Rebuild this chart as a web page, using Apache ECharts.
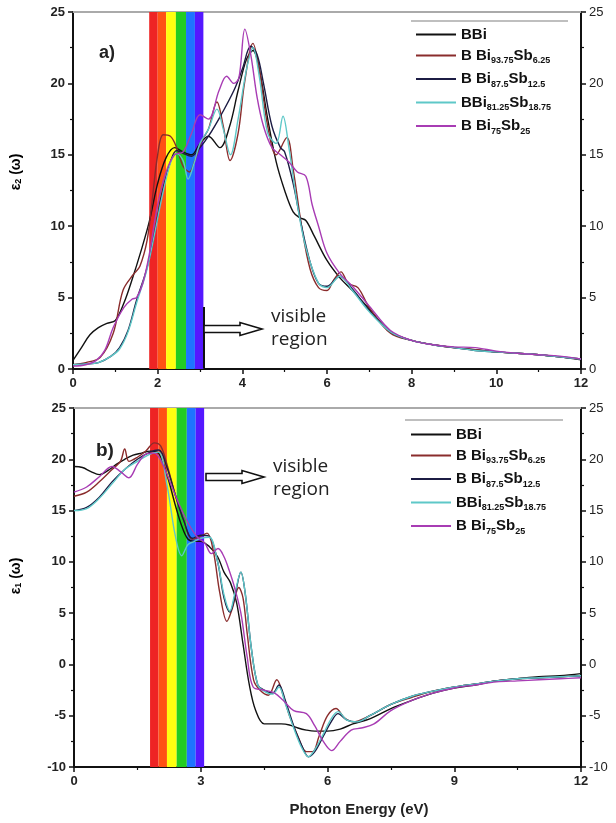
<!DOCTYPE html>
<html>
<head>
<meta charset="utf-8">
<script src="https://cdn.jsdelivr.net/npm/echarts@6/dist/echarts.min.js"></script>
<style>html,body{margin:0;padding:0;background:#fff}#c{width:616px;height:823px}</style>
</head>
<body>
<div id="c"></div>
<script>
// ---------- DATA ----------
const seriesNames = ['BBi', 'BBi93.75Sb6.25', 'BBi87.5Sb12.5', 'BBi81.25Sb18.75', 'BBi75Sb25'];
const legendLabels = [
  '{n|BBi}',
  '{n|B Bi}{s|93.75}{n|Sb}{s|6.25}',
  '{n|B Bi}{s|87.5}{n|Sb}{s|12.5}',
  '{n|BBi}{s|81.25}{n|Sb}{s|18.75}',
  '{n|B Bi}{s|75}{n|Sb}{s|25}'
];
// visible band edges (eV)
const bandEdges = [1.8, 2.0, 2.2, 2.43, 2.67, 2.88, 3.08];
const bandColors = ['#ee2424', '#ff5214', '#ffff10', '#22cc22', '#1e74ff', '#5418ff'];

// epsilon_2 (imaginary part) [energy, value]
const eps2_BBi = [[0,0.6],[0.2,1.5],[0.4,2.4],[0.6,2.9],[0.8,3.2],[1.0,3.4],[1.2,4.6],[1.4,6.3],[1.6,8.2],[1.8,10.3],[2.0,13.0],[2.2,14.8],[2.4,15.5],[2.6,15.2],[2.8,15.0],[3.0,15.8],[3.2,16.3],[3.47,15.5],[3.7,17.0],[3.9,19.5],[4.1,21.7],[4.25,22.3],[4.4,21.0],[4.6,17.5],[4.8,14.5],[5.0,12.5],[5.2,11.0],[5.35,10.6],[5.5,10.4],[5.7,9.3],[6.0,7.6],[6.3,6.4],[6.6,5.5],[7.0,4.2],[7.5,2.6],[8.0,2.0],[8.5,1.7],[9.0,1.5],[9.5,1.35],[10.0,1.2],[10.5,1.1],[11.0,1.0],[11.5,0.85],[12,0.65]];
const eps2_Sb625 = [[0,0.3],[0.3,0.45],[0.64,0.8],[0.95,2.5],[1.18,5.5],[1.42,6.6],[1.58,7.2],[1.75,9.0],[1.87,11.8],[2.0,15.0],[2.13,16.4],[2.3,16.3],[2.45,15.5],[2.6,14.2],[2.75,13.8],[2.9,14.8],[3.05,16.0],[3.2,16.8],[3.4,18.7],[3.55,17.0],[3.71,14.6],[3.9,16.5],[4.05,20.0],[4.25,22.8],[4.4,21.0],[4.6,17.0],[4.8,15.0],[5.05,16.2],[5.2,14.0],[5.4,10.0],[5.6,7.0],[5.8,5.7],[6.0,5.5],[6.15,6.2],[6.33,6.8],[6.5,6.0],[6.73,5.7],[7.0,4.3],[7.5,2.5],[8.0,2.0],[8.5,1.7],[9.0,1.5],[9.5,1.35],[10,1.2],[10.5,1.1],[11,1.0],[11.5,0.85],[12,0.7]];
const eps2_Sb125 = [[0,0.3],[0.3,0.35],[0.6,0.45],[0.9,0.9],[1.1,1.5],[1.3,2.7],[1.5,4.8],[1.75,7.1],[1.95,9.9],[2.1,12.3],[2.3,14.5],[2.45,15.3],[2.6,15.1],[2.8,14.9],[3.0,15.5],[3.2,16.3],[3.5,17.8],[3.8,19.5],[4.0,21.0],[4.2,22.6],[4.35,22.0],[4.5,20.0],[4.7,17.0],[4.9,15.5],[5.0,15.2],[5.2,13.0],[5.4,10.0],[5.6,7.5],[5.8,6.0],[6.0,5.8],[6.3,6.5],[6.6,5.6],[7.0,4.1],[7.5,2.6],[8.0,2.0],[8.5,1.7],[9.0,1.5],[9.5,1.3],[10,1.2],[10.5,1.1],[11,1.0],[11.5,0.85],[12,0.7]];
const eps2_Sb1875 = [[0,0.3],[0.3,0.35],[0.6,0.45],[0.9,0.9],[1.1,1.4],[1.3,2.6],[1.5,4.6],[1.75,7.0],[1.95,9.8],[2.1,12.0],[2.3,14.4],[2.45,15.1],[2.6,14.6],[2.72,13.3],[2.85,14.3],[3.0,15.8],[3.2,16.8],[3.4,18.2],[3.55,16.8],[3.72,15.0],[3.9,17.5],[4.1,21.0],[4.25,22.5],[4.4,20.5],[4.6,16.5],[4.8,15.8],[4.96,17.7],[5.1,15.5],[5.3,11.5],[5.5,8.5],[5.8,6.0],[6.0,5.7],[6.3,6.5],[6.6,5.5],[7.0,4.0],[7.5,2.6],[8.0,2.0],[8.5,1.7],[9.0,1.5],[9.5,1.3],[10,1.2],[10.5,1.1],[11,1.0],[11.5,0.85],[12,0.7]];
const eps2_Sb25 = [[0,0.2],[0.3,0.3],[0.55,0.6],[0.75,1.3],[0.95,2.9],[1.2,4.3],[1.4,4.9],[1.5,5.0],[1.65,6.0],[1.8,8.0],[2.0,11.5],[2.2,13.8],[2.4,15.0],[2.6,15.2],[2.8,16.5],[3.0,17.8],[3.2,17.5],[3.45,19.5],[3.63,20.5],[3.8,20.0],[3.92,20.4],[4.06,23.8],[4.2,22.0],[4.35,19.0],[4.5,17.0],[4.7,15.5],[4.9,15.0],[5.1,14.5],[5.3,13.8],[5.5,13.5],[5.65,11.5],[5.8,10.0],[6.0,8.1],[6.3,6.7],[6.6,5.8],[7.0,4.4],[7.5,2.7],[8.0,2.0],[8.5,1.7],[9.0,1.55],[9.5,1.5],[10,1.25],[10.5,1.1],[11,1.0],[11.5,0.9],[12,0.7]];

// epsilon_1 (real part) [energy, value]
const eps1_BBi = [[0,19.3],[0.2,19.2],[0.4,18.8],[0.6,18.5],[0.8,18.9],[1.0,19.5],[1.2,20.0],[1.4,20.4],[1.6,20.6],[1.8,20.8],[2.0,20.6],[2.2,18.5],[2.4,15.5],[2.55,13.5],[2.7,12.2],[2.85,12.0],[3.0,12.0],[3.2,11.5],[3.4,10.5],[3.55,9.0],[3.7,8.0],[3.85,6.0],[4.0,2.0],[4.15,-2.0],[4.3,-4.5],[4.5,-5.8],[4.7,-5.8],[4.9,-5.8],[5.1,-5.9],[5.3,-6.2],[5.5,-6.4],[5.7,-6.5],[6.0,-6.5],[6.3,-6.3],[6.6,-5.8],[7.0,-5.3],[7.5,-4.3],[8.0,-3.5],[8.5,-2.8],[9.0,-2.3],[9.5,-2.0],[10,-1.6],[10.5,-1.4],[11,-1.2],[11.5,-1.1],[12,-0.9]];
const eps1_Sb625 = [[0,16.4],[0.3,16.8],[0.6,17.8],[0.9,19.0],[1.1,19.8],[1.2,21.0],[1.3,19.8],[1.5,20.2],[1.7,20.8],[1.9,21.6],[2.05,21.3],[2.2,19.5],[2.4,16.5],[2.6,14.0],[2.8,12.2],[3.0,12.5],[3.15,12.8],[3.3,11.0],[3.45,7.0],[3.62,4.2],[3.75,5.5],[3.9,7.5],[4.0,6.5],[4.1,3.0],[4.25,-1.5],[4.4,-2.5],[4.6,-3.0],[4.8,-1.5],[4.95,-3.0],[5.1,-5.0],[5.3,-7.0],[5.5,-8.5],[5.65,-8.5],[5.8,-7.0],[6.0,-5.0],[6.2,-4.3],[6.4,-5.2],[6.6,-5.6],[7.0,-5.0],[7.5,-3.9],[8.0,-3.2],[8.5,-2.6],[9.0,-2.2],[9.5,-1.9],[10,-1.6],[10.5,-1.4],[11,-1.3],[11.5,-1.2],[12,-1.1]];
const eps1_Sb125 = [[0,15.0],[0.3,15.3],[0.6,16.3],[0.9,17.8],[1.2,19.0],[1.5,20.0],[1.8,20.7],[2.0,20.9],[2.2,19.2],[2.4,16.5],[2.6,14.0],[2.8,12.3],[3.0,12.6],[3.2,12.5],[3.4,10.0],[3.55,6.5],[3.69,5.1],[3.8,6.5],[3.95,9.0],[4.05,7.0],[4.2,1.5],[4.35,-2.0],[4.5,-2.5],[4.7,-2.8],[4.85,-2.0],[5.0,-3.5],[5.2,-6.0],[5.4,-8.0],[5.55,-9.0],[5.7,-8.5],[5.9,-7.0],[6.1,-5.5],[6.25,-4.8],[6.45,-5.4],[6.7,-5.6],[7.0,-5.0],[7.5,-3.9],[8.0,-3.1],[8.5,-2.6],[9.0,-2.2],[9.5,-1.9],[10,-1.6],[10.5,-1.4],[11,-1.3],[11.5,-1.2],[12,-1.1]];
const eps1_Sb1875 = [[0,15.0],[0.3,15.2],[0.6,16.2],[0.9,17.6],[1.2,19.0],[1.5,19.8],[1.8,20.5],[2.0,20.7],[2.2,17.5],[2.4,12.5],[2.55,10.6],[2.7,11.7],[2.85,12.0],[3.0,12.3],[3.2,12.4],[3.4,10.0],[3.55,6.8],[3.69,5.2],[3.8,6.8],[3.95,9.0],[4.05,7.0],[4.2,1.5],[4.35,-2.0],[4.5,-2.6],[4.7,-2.9],[4.85,-2.2],[5.0,-3.8],[5.2,-6.2],[5.4,-8.2],[5.55,-9.0],[5.7,-8.3],[5.9,-6.8],[6.1,-5.2],[6.25,-4.6],[6.45,-5.4],[6.7,-5.6],[7.0,-5.0],[7.5,-3.9],[8.0,-3.1],[8.5,-2.6],[9.0,-2.2],[9.5,-1.9],[10,-1.6],[10.5,-1.4],[11,-1.3],[11.5,-1.2],[12,-1.1]];
const eps1_Sb25 = [[0,16.8],[0.3,17.3],[0.6,18.3],[0.9,19.3],[1.1,18.8],[1.3,18.2],[1.5,19.5],[1.7,20.5],[1.9,20.6],[2.1,19.5],[2.3,17.5],[2.5,15.5],[2.7,13.8],[2.9,12.5],[3.1,11.8],[3.25,10.8],[3.41,11.3],[3.55,10.5],[3.67,9.2],[3.8,7.5],[3.95,5.0],[4.1,0.7],[4.24,-2.2],[4.5,-2.5],[4.75,-2.8],[4.95,-3.5],[5.2,-4.5],[5.5,-4.8],[5.7,-6.0],[5.9,-7.5],[6.1,-8.4],[6.3,-7.5],[6.56,-6.4],[6.8,-6.2],[7.1,-5.8],[7.5,-4.5],[8.0,-3.5],[8.5,-2.8],[9.0,-2.3],[9.5,-2.0],[10,-1.7],[10.5,-1.6],[11,-1.5],[11.5,-1.4],[12,-1.3]];

const eps2Data = [eps2_BBi, eps2_Sb625, eps2_Sb125, eps2_Sb1875, eps2_Sb25];
const eps1Data = [eps1_BBi, eps1_Sb625, eps1_Sb125, eps1_Sb1875, eps1_Sb25];

// ---------- STYLE ----------
const colors = ['#111111', '#8a2c2c', '#1c1c44', '#5ec8c8', '#a83cb4'];
const FONT = 'Liberation Sans, Arial, sans-serif';

const chart = echarts.init(document.getElementById('c'), null, {renderer: 'canvas'});

function xAxisMain(gridIndex, interval) {
  return {
    type: 'value', gridIndex, min: 0, max: 12, interval, position: 'bottom',
    axisLine: {onZero: false, lineStyle: {color: '#111', width: 2}},
    axisTick: {length: 5, lineStyle: {color: '#111', width: 1.5}},
    minorTick: {show: true, splitNumber: 2, length: 3, lineStyle: {color: '#111', width: 1.2}},
    axisLabel: {color: '#222', fontSize: 13, fontWeight: 'bold', fontFamily: FONT, margin: 8},
    splitLine: {show: false}
  };
}
function xAxisTop(gridIndex) {
  return {
    type: 'value', gridIndex, min: 0, max: 12, position: 'top',
    axisLine: {onZero: false, lineStyle: {color: '#aaa', width: 2}},
    axisTick: {show: false}, axisLabel: {show: false}, splitLine: {show: false}
  };
}
function yAxis(gridIndex, min, max, pos) {
  return {
    type: 'value', gridIndex, min, max, interval: 5, position: pos,
    axisLine: {show: true, onZero: false, lineStyle: {color: '#111', width: 2}},
    axisTick: {show: true, length: 5, lineStyle: {color: '#111', width: 1.5}},
    minorTick: {show: true, splitNumber: 2, length: 3, lineStyle: {color: '#111', width: 1.2}},
    axisLabel: {color: '#222', fontSize: 13, fontWeight: pos === 'left' ? 'bold' : 'normal', fontFamily: FONT, margin: 8},
    splitLine: {show: false}
  };
}

function bandMarkArea() {
  const data = [];
  for (let i = 0; i < bandColors.length; i++) {
    data.push([{xAxis: bandEdges[i], itemStyle: {color: bandColors[i], opacity: 1}}, {xAxis: bandEdges[i + 1]}]);
  }
  return {silent: true, data};
}

const series = [];
[0, 1].forEach(g => {
  series.push({
    type: 'line', name: '_band' + g, xAxisIndex: g * 2, yAxisIndex: g * 2,
    data: [], z: 1, silent: true, markArea: bandMarkArea()
  });
  const src = g === 0 ? eps2Data : eps1Data;
  src.forEach((d, i) => {
    series.push({
      type: 'line', name: seriesNames[i], xAxisIndex: g * 2, yAxisIndex: g * 2,
      data: d, showSymbol: false, smooth: 0.35, z: 3, color: colors[i],
      lineStyle: {width: 1.4, color: colors[i]}, animation: false
    });
  });
});

const richLegend = {
  n: {fontSize: 15, fontWeight: 'bold', color: '#111', fontFamily: FONT, lineHeight: 20, verticalAlign: 'middle'},
  s: {fontSize: 9, fontWeight: 'bold', color: '#111', fontFamily: FONT, lineHeight: 20, verticalAlign: 'bottom', padding: [7, 0, 0, 0]}
};
function legend(top, left) {
  return {
    data: seriesNames, orient: 'vertical', top, left, itemGap: 6,
    icon: 'rect', itemWidth: 40, itemHeight: 2, selectedMode: false,
    formatter: name => legendLabels[seriesNames.indexOf(name)],
    textStyle: {rich: richLegend}
  };
}

function arrow(x0, y) {
  return {
    type: 'polygon', z: 100,
    shape: {points: [[x0, y - 3.5], [x0 + 36, y - 3.5], [x0 + 36, y - 6.5], [x0 + 58, y], [x0 + 36, y + 6.5], [x0 + 36, y + 3.5], [x0, y + 3.5]]},
    style: {fill: '#fff', stroke: '#111', lineWidth: 1.6}
  };
}
function txt(x, y, text, font, extra) {
  return Object.assign({type: 'text', x, y, z: 100,
    style: Object.assign({text, font, fill: '#222', align: 'left', verticalAlign: 'top', textAlign: 'left', textVerticalAlign: 'top'}, extra || {})});
}
const yRich = {
  a: {fontSize: 14, fontWeight: 'bold', fontFamily: FONT, color: '#222'},
  s: {fontSize: 9, fontWeight: 'bold', fontFamily: FONT, color: '#222', padding: [6, 0, 0, 0]}
};

chart.setOption({
  animation: false,
  backgroundColor: '#fff',
  grid: [
    {left: 73, right: 35, top: 12, height: 357},
    {left: 74, right: 35, top: 408, height: 359}
  ],
  xAxis: [xAxisMain(0, 2), xAxisTop(0), xAxisMain(1, 3), xAxisTop(1)],
  yAxis: [yAxis(0, 0, 25, 'left'), yAxis(0, 0, 25, 'right'), yAxis(1, -10, 25, 'left'), yAxis(1, -10, 25, 'right')],
  legend: [legend(22, 411), legend(422, 406)],
  series,
  graphic: [
    {type: 'line', z: 100, shape: {x1: 411, y1: 21, x2: 568, y2: 21}, style: {stroke: '#aaa', lineWidth: 1.5}},
    {type: 'line', z: 100, shape: {x1: 405, y1: 420, x2: 563, y2: 420}, style: {stroke: '#aaa', lineWidth: 1.5}},
    {type: 'line', z: 100, shape: {x1: 204, y1: 307, x2: 204, y2: 368}, style: {stroke: '#111', lineWidth: 2}},
    arrow(204, 329),
    arrow(206, 477),
    txt(271, 305, 'visible\nregion', '19px Open Sans, sans-serif', {lineHeight: 23}),
    txt(273, 455, 'visible\nregion', '19px Open Sans, sans-serif', {lineHeight: 23}),
    txt(99, 44, 'a)', 'bold 18px ' + FONT),
    txt(96, 441, 'b)', 'bold 19px ' + FONT),
    {type: 'text', x: 16, y: 172, rotation: Math.PI / 2, z: 100,
      style: {text: '{a|ε}{s|2}{a| (ω)}', rich: yRich, align: 'center', verticalAlign: 'middle', textAlign: 'center', textVerticalAlign: 'middle'}},
    {type: 'text', x: 16, y: 576, rotation: Math.PI / 2, z: 100,
      style: {text: '{a|ε}{s|1}{a| (ω)}', rich: yRich, align: 'center', verticalAlign: 'middle', textAlign: 'center', textVerticalAlign: 'middle'}},
    txt(359, 810, 'Photon Energy (eV)', 'bold 15px ' + FONT, {align: 'center', verticalAlign: 'middle', textAlign: 'center', textVerticalAlign: 'middle'})
  ]
});
</script>
</body>
</html>
